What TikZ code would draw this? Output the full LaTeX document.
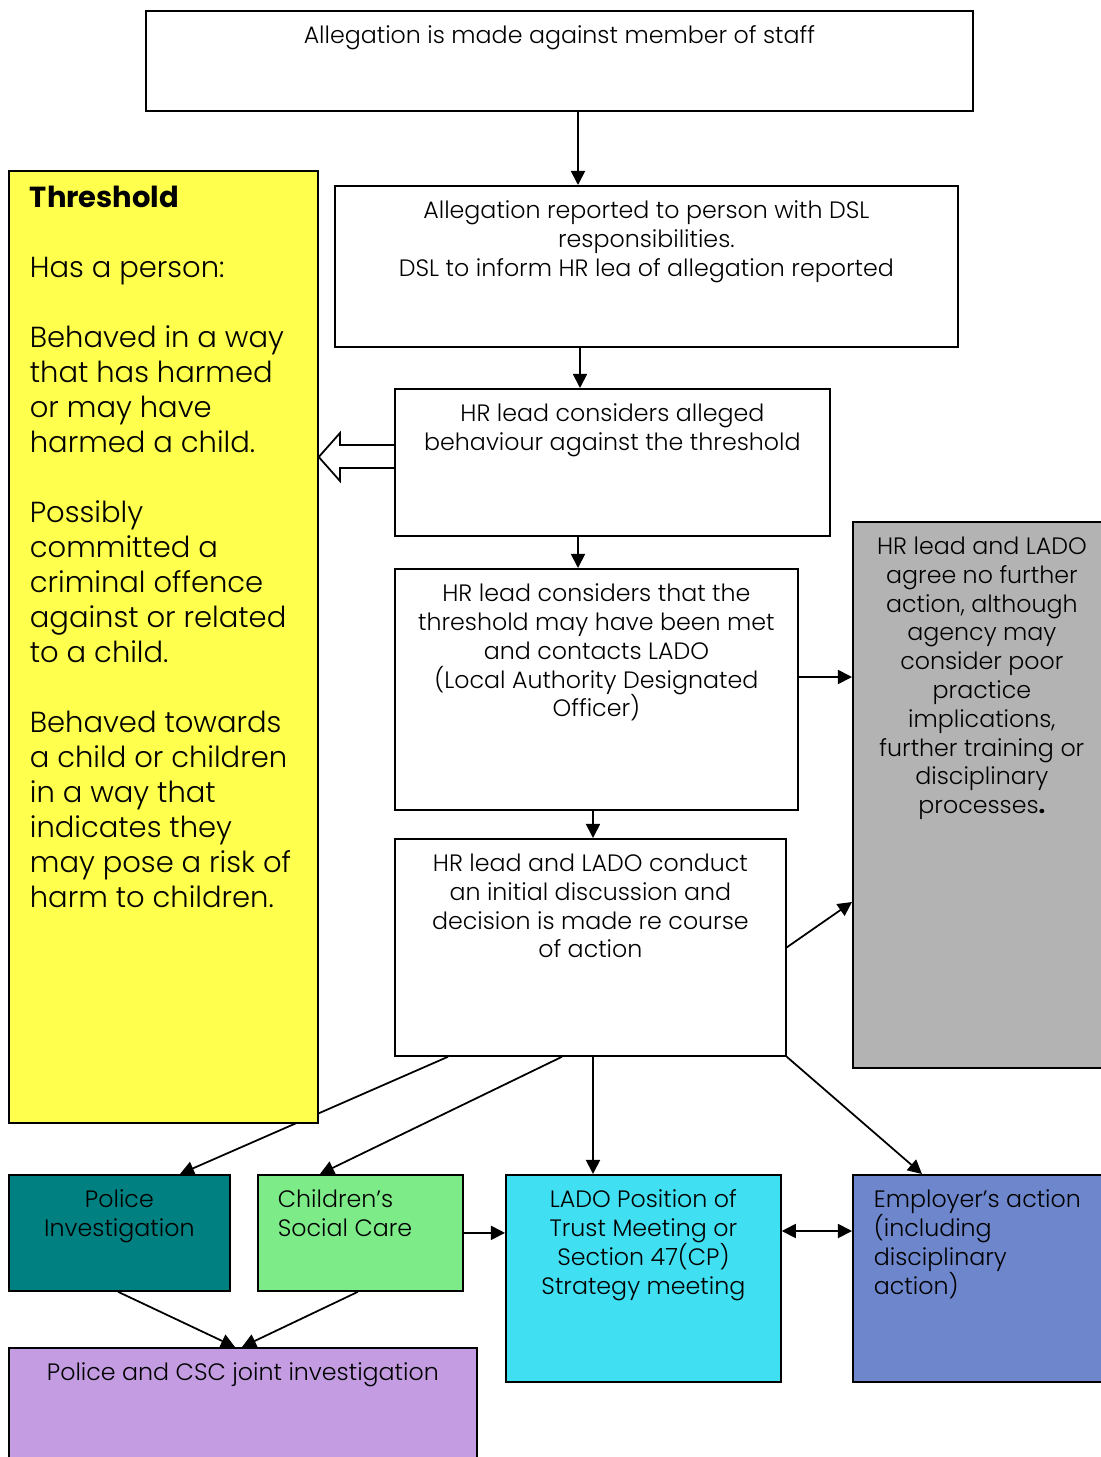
\documentclass[tikz,border=0pt]{standalone}
\usepackage{fontspec}
\setmainfont{Poppins}[UprightFont={Poppins Light}, BoldFont={Poppins Bold}]
\usetikzlibrary{arrows.meta,backgrounds}
\newlength\px
\setlength\px{0.02cm}
\definecolor{thresholdyellow}{HTML}{FFFF4D}
\definecolor{noactiongrey}{HTML}{B3B3B3}
\definecolor{policeteal}{HTML}{008080}
\definecolor{cscgreen}{HTML}{7DEB87}
\definecolor{ladocyan}{HTML}{40E0F2}
\definecolor{employerblue}{HTML}{6E87CC}
\definecolor{jointpurple}{HTML}{C39CE2}
% text block of a box: width, height, alignment, text
\newcommand{\boxtext}[4]{\parbox[t][#2\px][t]{#1\px}{\vspace*{15\px}#3#4}}

\begin{document}
\begin{tikzpicture}[x=0.02cm, y=-0.02cm,
    flow/.style={draw, line width=1pt, inner sep=0pt, anchor=north west,
        font=\fontsize{13.5}{16.4}\selectfont},
    arr/.style={-{Triangle[length=8pt,width=8pt]}, line width=1pt},
    twoarr/.style={{Triangle[length=8pt,width=8pt]}-{Triangle[length=8pt,width=8pt]}, line width=1pt}]
    \useasboundingbox (0,0) rectangle (1101,1457);

    \node[flow] (made) at (145,10) {\boxtext{827}{100}{\centering}{Allegation is made against member of staff}};
    \node[flow] (dsl) at (334,185) {\boxtext{623}{161}{\centering}{Allegation reported to person with DSL\\responsibilities.\\DSL to inform HR lea of allegation reported}};
    \node[flow] (hrcons) at (394,388) {\boxtext{435}{147}{\centering}{HR lead considers alleged\\behaviour against the threshold}};
    \node[flow] (met) at (394,568) {\boxtext{403}{241}{\centering}{HR lead considers that the\\threshold may have been met\\and contacts LADO\\(Local Authority Designated\\Officer)}};
    \node[flow] (initial) at (394,838) {\boxtext{391}{217}{\centering}{HR lead and LADO conduct\\an initial discussion and\\decision is made re course\\of action}};
    \node[flow, fill=noactiongrey] (nofurther) at (852,521) {\boxtext{258}{546}{\centering}{HR lead and LADO\\agree no further\\action, although\\agency may\\consider poor\\practice\\implications,\\further training or\\disciplinary\\processes\textbf{.}}};

    % threshold box
    \node[flow, fill=thresholdyellow, font=\fontsize{16.5}{35\px}\selectfont] (threshold) at (8,170)
        {\boxtext{309}{952}{\raggedright\leftskip=21\px}{\textbf{Threshold}\\[35\px]
        Has a person:\\[35\px]
        Behaved in a way\\that has harmed\\or may have\\harmed a child.\\[35\px]
        Possibly\\committed a\\criminal offence\\against or related\\to a child.\\[35\px]
        Behaved towards\\a child or children\\in a way that\\indicates they\\may pose a risk of\\harm to children.}};

    \node[flow, fill=policeteal] (police) at (8,1174) {\boxtext{221}{116}{\centering}{Police\\Investigation}};
    \node[flow, fill=cscgreen] (csc) at (257,1174) {\boxtext{205}{116}{\raggedright\leftskip=20\px}{Children’s\\Social Care}};
    \node[flow, fill=ladocyan] (lado) at (505,1174) {\boxtext{275}{207}{\centering}{LADO Position of\\Trust Meeting or\\Section 47(CP)\\Strategy meeting}};
    \node[flow, fill=employerblue] (employer) at (852,1174) {\boxtext{258}{207}{\raggedright\leftskip=21\px}{Employer’s action\\(including\\disciplinary\\action)}};
    \node[flow, fill=jointpurple] (joint) at (8,1347) {\boxtext{468}{120}{\centering}{Police and CSC joint investigation}};

    % connectors
    \draw[arr] (made.south -| 578,0) -- (dsl.north -| 578,0);
    \draw[arr] (dsl.south -| 580,0) -- (hrcons.north -| 580,0);
    \draw[arr] (hrcons.south -| 578,0) -- (met.north -| 578,0);
    \draw[arr] (met.east |- 0,677) -- (nofurther.west |- 0,677);
    \draw[arr] (met.south -| 593,0) -- (initial.north -| 593,0);
    \draw[arr] (initial.east) -- (nofurther.west |- 0,902);
    \begin{scope}[on background layer]
        \draw[arr] (initial.south -| 448,0) -- (police.north -| 180,0);
    \end{scope}
    \draw[arr] (initial.south -| 562,0) -- (csc.north -| 320,0);
    \draw[arr] (initial.south -| 593,0) -- (lado.north -| 593,0);
    \draw[arr] (initial.south east) -- (employer.north -| 922,0);
    \draw[arr] (csc.east) -- (lado.west |- csc.east);
    \draw[twoarr] (lado.east |- 0,1231) -- (employer.west |- 0,1231);
    \draw[arr] (police.south -| 118,0) -- (joint.north -| 235,0);
    \draw[arr] (csc.south -| 358,0) -- (joint.north -| 242,0);

    % hollow arrow towards the threshold box
    \draw[line width=1pt, line join=miter] (hrcons.west |- 0,445) -- (340,445) -- (340,433)
        -- (threshold.east |- 0,457) -- (340,481) -- (340,468) -- (hrcons.west |- 0,468);
\end{tikzpicture}
\end{document}
